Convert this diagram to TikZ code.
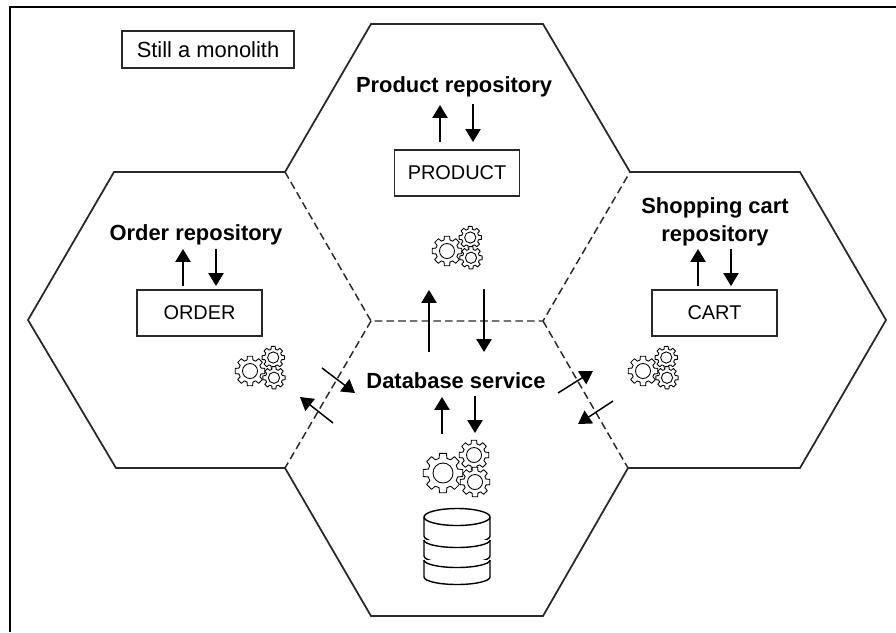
\documentclass[tikz,border=0pt]{standalone}
\usepackage{fontspec}
\setmainfont{Liberation Sans}
\definecolor{hex_line}{RGB}{40, 40, 40}
\usetikzlibrary{arrows.meta, positioning, calc}
\newcommand{\cogwheel}[3]{%
  \draw[cogline] ($(#1,#2)+(-15:0.76*#3)$)
    \foreach \a in {0,45,...,315} {
      -- ($(#1,#2)+(\a-15:0.76*#3)$) -- ($(#1,#2)+(\a-10:#3)$)
      -- ($(#1,#2)+(\a+10:#3)$) -- ($(#1,#2)+(\a+15:0.76*#3)$)
    } -- cycle;
  \draw[cogline] (#1,#2) circle (0.5*#3);
}
\begin{document}
\begin{tikzpicture}[x=0.03cm, y=-0.03cm,
            hexline/.style={hex_line, line width=1.5pt, line join=miter},
            hexdash/.style={hex_line, line width=1.25pt, dash pattern=on 6.5pt off 3.5pt},
            box/.style={draw=hex_line, line width=1.3pt, font=\fontsize{17}{20}\selectfont,
                        minimum width=3.75cm, minimum height=1.38cm},
            head/.style={font=\fontsize{18.7}{24}\selectfont\bfseries, align=center},
            arr/.style={-{Triangle[length=11pt, width=13pt]}, line width=1.25pt},
            cogline/.style={line width=0.75pt, fill=white, line join=round},
            dbline/.style={line width=1.2pt, fill=white},
            cogs/.pic={
              \cogwheel{0}{0}{20}
              \cogwheel{31}{-18}{15}
              \cogwheel{32}{9}{15}
            }]
  \useasboundingbox (0,0) rectangle (896,632);
  \draw[line width=2.2pt] (10,632) -- (10,7) -- (896,7);

  % hexagon corners
  \coordinate (ptl) at (371,24);
  \coordinate (ptr) at (543,24);
  \coordinate (pr) at (630,172);
  \coordinate (pl) at (285,172);
  \coordinate (cl) at (371,321);
  \coordinate (cr) at (543,321);
  \coordinate (bl) at (285,468);
  \coordinate (br) at (628,468);
  \coordinate (bbl) at (371,616);
  \coordinate (bbr) at (543,616);
  \coordinate (ltl) at (114,172);
  \coordinate (lw) at (28,320);
  \coordinate (lbl) at (116,468);
  \coordinate (rtr) at (800,172);
  \coordinate (re) at (886,320);
  \coordinate (rbr) at (800,468);

  \draw[hexline] (pl) -- (ptl) -- (ptr) -- (pr) -- (rtr) -- (re) -- (rbr) -- (br)
    -- (bbr) -- (bbl) -- (bl) -- (lbl) -- (lw) -- (ltl) -- (pl);
  \draw[hexdash] (pl) -- (cl) -- (cr) -- (pr);
  \draw[hexdash] (cl) -- (bl);
  \draw[hexdash] (cr) -- (br);

  \node[draw=hex_line, line width=1.1pt, minimum width=5.16cm, minimum height=1.11cm,
        font=\fontsize{18.7}{24}\selectfont] (mono) at (208,49.5) {Still a monolith};

  \node[head] (prodrepo) at (454,87) {Product repository};
  \node[box] (product) at (457,173) {PRODUCT};
  \node[head] (orderrepo) at (196,235) {Order repository};
  \node[box] (order) at (199.5,313) {ORDER};
  \node[head] (cartrepo) at (715,222) {Shopping cart\\repository};
  \node[box] (cart) at (714.5,313) {CART};
  \node[head] (dbservice) at (456,381) {Database service};

  % free ends of the arrows
  \coordinate (pua) at (440,142);
  \coordinate (pub) at (440,105);
  \coordinate (pda) at (473,104);
  \coordinate (pdb) at (473,142);
  \coordinate (oua) at (183,286);
  \coordinate (oub) at (183,249);
  \coordinate (oda) at (216,249);
  \coordinate (odb) at (216,286);
  \coordinate (cua) at (698,286);
  \coordinate (cub) at (698,249);
  \coordinate (cda) at (731,249);
  \coordinate (cdb) at (731,286);
  \coordinate (mua) at (429,352);
  \coordinate (mub) at (429,290);
  \coordinate (mda) at (484,289);
  \coordinate (mdb) at (484,352);
  \coordinate (sua) at (442,434);
  \coordinate (sub) at (442,397);
  \coordinate (sda) at (475,396);
  \coordinate (sdb) at (475,433);
  \coordinate (laa) at (322,368);
  \coordinate (lab) at (355,393);
  \coordinate (lba) at (333,423);
  \coordinate (lbb) at (300,397);
  \coordinate (raa) at (558,393);
  \coordinate (rab) at (593,371);
  \coordinate (rba) at (613,401);
  \coordinate (rbb) at (578,424);

  \draw[arr] (pua) -- (pub);
  \draw[arr] (pda) -- (pdb);
  \draw[arr] (oua) -- (oub);
  \draw[arr] (oda) -- (odb);
  \draw[arr] (cua) -- (cub);
  \draw[arr] (cda) -- (cdb);
  \draw[arr] (mua) -- (mub);
  \draw[arr] (mda) -- (mdb);
  \draw[arr] (sua) -- (sub);
  \draw[arr] (sda) -- (sdb);
  \draw[arr] (laa) -- (lab);
  \draw[arr] (lba) -- (lbb);
  \draw[arr] (raa) -- (rab);
  \draw[arr] (rba) -- (rbb);

  \pic[scale=0.75] at (447,251) {cogs};
  \pic[scale=0.75] at (250,371) {cogs};
  \pic[scale=0.75] at (643,371) {cogs};
  \pic at (443,473) {cogs};

  % database
  \draw[dbline] (424,517) -- (424,536) arc[start angle=180, end angle=0, x radius=33, y radius=8] -- (490,517);
  \draw[dbline] (424,540) -- (424,556) arc[start angle=180, end angle=0, x radius=33, y radius=7.5] -- (490,540);
  \draw[dbline] (424,540) arc[start angle=180, end angle=0, x radius=33, y radius=7.5];
  \draw[dbline] (424,560) -- (424,577) arc[start angle=180, end angle=0, x radius=33, y radius=7.5] -- (490,560);
  \draw[dbline] (424,560) arc[start angle=180, end angle=0, x radius=33, y radius=7.5];
  \draw[dbline] (457,517) ellipse (33 and 8.5);
\end{tikzpicture}
\end{document}
